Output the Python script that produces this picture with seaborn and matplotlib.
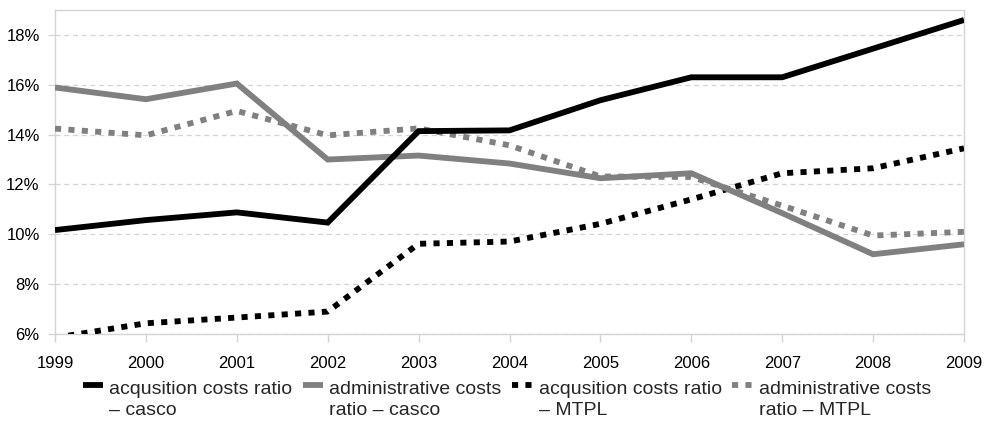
import matplotlib
matplotlib.use("Agg")
import matplotlib.pyplot as plt
import numpy as np
import pandas as pd
import seaborn as sns
from matplotlib.legend_handler import HandlerLine2D
from matplotlib.lines import Line2D
from matplotlib.ticker import FuncFormatter

# Cost ratios (%) by year
years = [1999, 2000, 2001, 2002, 2003, 2004, 2005, 2006, 2007, 2008, 2009]
acq_casco = [10.17, 10.57, 10.88, 10.47, 14.14, 14.17, 15.38, 16.3, 16.3, 17.45, 18.6]
adm_casco = [15.89, 15.42, 16.05, 13.0, 13.16, 12.84, 12.25, 12.45, 10.85, 9.2, 9.6]
acq_mtpl = [5.85, 6.43, 6.66, 6.9, 9.62, 9.71, 10.42, 11.4, 12.45, 12.65, 13.45]
adm_mtpl = [14.24, 13.97, 14.95, 13.97, 14.25, 13.57, 12.32, 12.3, 11.15, 9.95, 10.1]

labels = [
    "acqusition costs ratio\n– casco",
    "administrative costs\nratio – casco",
    "acqusition costs ratio\n– MTPL",
    "administrative costs\nratio – MTPL",
]
y_ticks = [6, 8, 10, 12, 14, 16, 18]

BLACK = "#000000"
GRAY = "#808080"
colors = [BLACK, GRAY, BLACK, GRAY]
dotted = [False, False, True, True]

df = pd.DataFrame({
    "year": years * 4,
    "ratio": acq_casco + adm_casco + acq_mtpl + adm_mtpl,
    "series": [labels[i] for i in range(4) for _ in years],
})

sns.set_theme(style="white")
plt.rcParams["font.family"] = ["Liberation Sans", "DejaVu Sans"]

fig = plt.figure(figsize=(9.89, 4.21), dpi=100)
ax = fig.add_axes([55 / 989, 1 - 334 / 421, (964 - 55) / 989, (334 - 10) / 421])

LW = 4.2
dash_pat = (1.05, 1.25)
draw_order = [2, 3, 1, 0]
for i in draw_order:
    sub = df[df["series"] == labels[i]]
    sns.lineplot(data=sub, x="year", y="ratio", ax=ax, color=colors[i],
                 linewidth=LW, legend=False, zorder=3 + draw_order.index(i))
    line = ax.lines[-1]
    if dotted[i]:
        line.set_dashes(dash_pat)
        line.set_dash_capstyle("butt")
    else:
        line.set_solid_joinstyle("miter")
        line.set_solid_capstyle("butt")

ax.set_xlim(1999, 2009)
ax.set_ylim(6, 19)
ax.set_xticks(years)
ax.set_yticks(y_ticks)
ax.yaxis.set_major_formatter(FuncFormatter(lambda v, p: f"{v:.0f}%"))
ax.set_xlabel("")
ax.set_ylabel("")

ax.grid(axis="y", color="#d4d4d4", linestyle=(0, (4, 3)), linewidth=0.9)
ax.grid(axis="x", visible=False)
for s in ax.spines.values():
    s.set_color("#d4d4d4")
    s.set_linewidth(1.0)

ax.tick_params(axis="x", length=6, width=1.0, color="#d4d4d4", pad=10,
               labelsize=12, labelcolor="#000000", bottom=True)
ax.tick_params(axis="y", length=5, width=0.9, color="#d4d4d4", pad=6,
               labelsize=12, labelcolor="#000000", left=True)


class FirstLineHandler(HandlerLine2D):
    """Line handle raised so it sits beside the first line of a two-line label."""

    def __init__(self, shift, **kw):
        super().__init__(**kw)
        self._shift = shift

    def create_artists(self, legend, orig_handle, xdescent, ydescent,
                       width, height, fontsize, trans):
        arts = super().create_artists(legend, orig_handle, xdescent, ydescent,
                                      width, height, fontsize, trans)
        for a in arts:
            a.set_ydata(np.asarray(a.get_ydata()) + self._shift)
        return arts


FS = 14
handles = []
for i in range(4):
    h = Line2D([], [], color=colors[i], linewidth=LW)
    if dotted[i]:
        h.set_dashes(dash_pat)
        h.set_dash_capstyle("butt")
    else:
        h.set_solid_capstyle("butt")
    handles.append(h)

handler = FirstLineHandler(shift=0.75 * FS)
leg = fig.legend(handles, labels, loc="upper left",
                 bbox_to_anchor=(83 / 989, 1 - 381 / 421),
                 ncol=4, frameon=False, fontsize=FS, borderpad=0,
                 borderaxespad=0, handlelength=1.05, handletextpad=0.3,
                 columnspacing=0.55, labelspacing=0.0,
                 handler_map={h: handler for h in handles})
for t in leg.get_texts():
    t.set_linespacing(1.3)

fig.savefig("out.png", dpi=100)
